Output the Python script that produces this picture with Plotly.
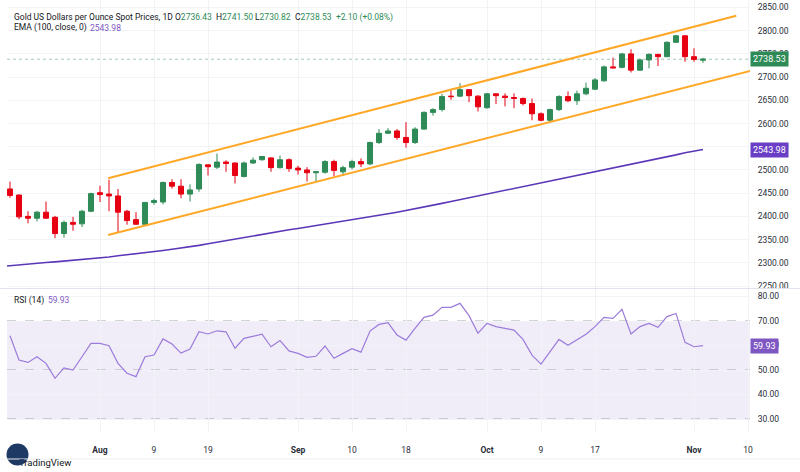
import plotly.graph_objects as go

# ---------------- data ----------------
opens = [2459, 2446, 2400, 2396, 2409, 2398, 2363, 2387, 2384, 2411,
         2451, 2448, 2444, 2411, 2393, 2383, 2430, 2431, 2473, 2465,
         2448, 2459, 2511, 2506, 2517, 2515, 2486, 2515, 2522, 2526,
         2505, 2522, 2504, 2500, 2494, 2495, 2518, 2496, 2506, 2518,
         2513, 2559, 2579, 2584, 2570, 2559, 2588, 2624, 2630, 2659,
         2659, 2673, 2659, 2634, 2664, 2659, 2656, 2654, 2643, 2621,
         2607, 2630, 2658, 2649, 2664, 2674, 2692, 2722, 2721, 2750,
         2715, 2737, 2749, 2744, 2775, 2789, 2744, 2736.43]
highs = [2475, 2447, 2411, 2412, 2432, 2401, 2391, 2399, 2414, 2451,
         2466, 2479, 2459, 2414, 2409, 2431, 2438, 2475, 2480, 2480,
         2469, 2514, 2512, 2535, 2521, 2516, 2518, 2527, 2530, 2527,
         2531, 2525, 2509, 2506, 2498, 2521, 2522, 2509, 2522, 2525,
         2561, 2588, 2590, 2588, 2603, 2592, 2626, 2633, 2664, 2671,
         2687, 2673, 2661, 2666, 2665, 2665, 2665, 2656, 2654, 2624,
         2632, 2661, 2669, 2671, 2688, 2698, 2725, 2742, 2752, 2760,
         2740, 2751, 2750, 2777, 2791, 2790, 2762, 2741.50]
lows = [2440, 2394, 2385, 2389, 2395, 2353, 2354, 2369, 2377, 2409,
        2431, 2411, 2365, 2382, 2382, 2381, 2425, 2426, 2460, 2439,
        2432, 2453, 2488, 2502, 2496, 2471, 2484, 2513, 2520, 2496,
        2503, 2496, 2490, 2475, 2475, 2492, 2486, 2487, 2501, 2506,
        2510, 2556, 2578, 2565, 2548, 2556, 2587, 2617, 2626, 2651,
        2657, 2646, 2626, 2632, 2642, 2637, 2633, 2639, 2607, 2605,
        2604, 2627, 2646, 2640, 2661, 2672, 2690, 2719, 2719, 2710,
        2713, 2719, 2724, 2743, 2774, 2733, 2733, 2730.82]
closes = [2445, 2399, 2396, 2409, 2396, 2363, 2387, 2383, 2411, 2449,
          2447, 2444, 2409, 2391, 2383, 2430, 2434, 2473, 2465, 2448,
          2457, 2512, 2507, 2517, 2514, 2488, 2515, 2521, 2529, 2505,
          2522, 2503, 2500, 2494, 2496, 2518, 2499, 2505, 2518, 2513,
          2559, 2579, 2584, 2570, 2559, 2588, 2624, 2630, 2658, 2658,
          2673, 2660, 2636, 2664, 2660, 2656, 2654, 2643, 2621, 2607,
          2630, 2658, 2649, 2664, 2676, 2694, 2722, 2720, 2750, 2715,
          2737, 2749, 2744, 2775, 2789, 2744, 2738, 2738.53]

# EMA(100) values, starting one bar before the first visible candle
ema_values = [2292, 2294, 2296, 2297.5, 2299, 2300.5, 2302, 2303.5, 2305, 2306.5,
              2308, 2310, 2312.5, 2315, 2317, 2319.5, 2322, 2324, 2326.5, 2329,
              2331.5, 2334, 2337.5, 2341, 2344.5, 2348, 2351.5, 2355, 2358.5, 2362,
              2365, 2368, 2371, 2374, 2377, 2380, 2383, 2386, 2389, 2392,
              2395, 2398.5, 2402, 2405.5, 2409, 2412.5, 2416, 2420, 2424, 2428,
              2432, 2436, 2440, 2444, 2447.5, 2451, 2455, 2459, 2463, 2467,
              2471, 2475, 2479, 2483, 2487, 2491, 2495, 2499, 2503, 2507,
              2511.5, 2516, 2520, 2524, 2528, 2532.5, 2537, 2540.5, 2543.98]

rsi_values = [64.0, 54.1, 53.1, 55.4, 52.7, 46.6, 50.9, 50.0, 55.4, 60.9,
              60.9, 59.9, 52.7, 48.7, 47.3, 55.4, 56.1, 62.7, 60.6, 56.9,
              58.6, 65.6, 64.7, 66.0, 65.6, 58.9, 62.9, 63.6, 64.6, 59.5,
              62.0, 57.8, 56.8, 55.2, 55.6, 59.8, 54.8, 56.8, 58.7, 57.3,
              65.9, 68.6, 69.3, 64.3, 62.2, 67.0, 71.5, 72.4, 75.6, 75.6,
              77.2, 72.2, 65.0, 69.0, 67.7, 67.0, 66.3, 62.5, 56.1, 52.4,
              57.5, 62.5, 60.1, 62.5, 64.6, 67.7, 71.5, 71.1, 74.8, 64.7,
              67.7, 69.0, 67.4, 71.8, 73.1, 61.3, 59.5, 59.93]

# parallel channel (bar index, price)
channel_upper_x = [10.9, 80.7]
channel_upper_y = [2482, 2832]
channel_lower_x = [10.9, 84.0]
channel_lower_y = [2360, 2722]

tick_bars = [10, 16, 22, 32, 38, 44, 53, 59, 65, 76, 82]
tick_labels = ["<b>Aug</b>", "9", "19", "<b>Sep</b>", "10", "18",
               "<b>Oct</b>", "9", "17", "<b>Nov</b>", "10"]

price_ticks = [2250, 2300, 2350, 2400, 2450, 2500, 2550, 2600, 2650,
               2700, 2750, 2800, 2850]
rsi_ticks = [30, 40, 50, 60, 70, 80]
rsi_levels = [70, 50, 30]

last_price = 2738.53
last_ema = 2543.98
last_rsi = 59.93

# ---------------- styling ----------------
FONT = "Roboto"
TXT = "#131722"
AX = "#2a2e39"
GREEN = "#2e8b57"
RED = "#e60012"
GRID = "#f2f3f6"
ORANGE = "#ffa726"
EMA_C = "#5b37b8"
RSI_C = "#9b7bdb"
NAVY = "#1e3a64"
LOGO_OR = "#f7931e"

bars = list(range(len(closes)))
ema_x = list(range(-1, len(ema_values) - 1))

W, H = 800, 472
ML, MR, MT, MB = 7, 50, 0, 0
PW, PH = W - ML - MR, H - MT - MB


def px(xp):
    return (xp - ML) / PW


def py(yp):
    return (PH - (yp - MT)) / PH


fig = go.Figure()

fig.add_trace(go.Candlestick(
    x=bars, open=opens, high=highs, low=lows, close=closes,
    xaxis="x2", yaxis="y2",
    increasing=dict(line=dict(color=GREEN, width=1), fillcolor=GREEN),
    decreasing=dict(line=dict(color=RED, width=1), fillcolor=RED),
    whiskerwidth=0, hoverinfo="skip", showlegend=False,
))

fig.add_trace(go.Scatter(x=channel_upper_x, y=channel_upper_y, mode="lines",
                         line=dict(color=ORANGE, width=2), xaxis="x2", yaxis="y2",
                         showlegend=False, hoverinfo="skip"))
fig.add_trace(go.Scatter(x=channel_lower_x, y=channel_lower_y, mode="lines",
                         line=dict(color=ORANGE, width=2), xaxis="x2", yaxis="y2",
                         showlegend=False, hoverinfo="skip"))
fig.add_trace(go.Scatter(x=ema_x, y=ema_values, mode="lines",
                         line=dict(color=EMA_C, width=1.6), xaxis="x2", yaxis="y2",
                         showlegend=False, hoverinfo="skip"))
fig.add_trace(go.Scatter(x=bars, y=rsi_values, mode="lines",
                         line=dict(color=RSI_C, width=1.2), xaxis="x", yaxis="y",
                         showlegend=False, hoverinfo="skip"))

# TradingView logo, drawn on its own small pixel-unit axes
logo_bar_x = [12.5, 15.5, 18.5, 21.5, 24.5]
logo_bar_top = [455, 452, 449, 450, 453]
fig.add_trace(go.Scatter(x=[17.5], y=[454.5], mode="markers",
                         marker=dict(symbol="circle", size=22, color=NAVY,
                                     line=dict(width=0)),
                         xaxis="x3", yaxis="y3", showlegend=False, hoverinfo="skip",
                         cliponaxis=False))
fig.add_trace(go.Bar(x=logo_bar_x, y=[t - 463 for t in logo_bar_top],
                     base=[463] * len(logo_bar_x), width=[1.8] * len(logo_bar_x),
                     marker=dict(color=LOGO_OR, line=dict(width=0)),
                     xaxis="x3", yaxis="y3", showlegend=False, hoverinfo="skip",
                     cliponaxis=False))
fig.add_trace(go.Scatter(x=[6.5], y=[461], mode="markers",
                         marker=dict(symbol="square", size=4, color=TXT),
                         xaxis="x3", yaxis="y3", showlegend=False, hoverinfo="skip",
                         cliponaxis=False))

xr = [(ML - 10) / 9, (ML + PW - 10) / 9]
main_dom = [py(288), 1]
rsi_dom = [py(432), py(289)]

common_x = dict(range=xr, tickmode="array", tickvals=tick_bars, ticktext=tick_labels,
                showgrid=True, gridcolor=GRID, gridwidth=1, zeroline=False,
                showline=False, fixedrange=True, automargin=False)

hidden = dict(visible=False, showgrid=False, zeroline=False, fixedrange=True,
              automargin=False)

fig.update_layout(
    width=W, height=H,
    margin=dict(l=ML, r=MR, t=MT, b=MB, autoexpand=False),
    paper_bgcolor="white", plot_bgcolor="rgba(0,0,0,0)",
    font=dict(family=FONT, size=8.5, color=AX),
    showlegend=False,
    boxgap=0.2,
    xaxis=dict(**common_x, anchor="y", ticks="outside", ticklen=10,
               tickcolor="rgba(0,0,0,0)", tickfont=dict(size=8.5, color=AX)),
    xaxis2=dict(**common_x, anchor="y2", matches="x", showticklabels=False,
                rangeslider=dict(visible=False)),
    xaxis3=dict(**hidden, domain=[0, px(47)], range=[7, 47], anchor="y3"),
    yaxis3=dict(**hidden, domain=[py(472), py(440)], range=[472, 440], anchor="x3"),
    yaxis=dict(domain=rsi_dom, range=[24.7, 83.06], side="right",
               tickvals=rsi_ticks, tickformat=".2f", showgrid=True,
               gridcolor=GRID, zeroline=False, ticks="outside", ticklen=5,
               tickcolor="rgba(0,0,0,0)", fixedrange=True, automargin=False),
    yaxis2=dict(domain=main_dom, range=[2245.7, 2866.1], side="right",
                tickvals=price_ticks, tickformat=".2f", showgrid=True,
                gridcolor=GRID, zeroline=False, ticks="outside", ticklen=5,
                tickcolor="rgba(0,0,0,0)", anchor="x2", fixedrange=True,
                automargin=False),
)

shapes = []
# RSI band fill
shapes.append(dict(type="rect", xref="paper", yref="y", x0=0, x1=1, y0=30, y1=70,
                   fillcolor="rgba(126,87,194,0.11)", line=dict(width=0), layer="below"))
for lv in rsi_levels:
    shapes.append(dict(type="line", xref="paper", yref="y", x0=0, x1=1, y0=lv, y1=lv,
                       line=dict(color="#a3a6af", width=1, dash="dash"), layer="below"))
# last price line
shapes.append(dict(type="line", xref="paper", yref="y2", x0=0, x1=1,
                   y0=last_price, y1=last_price,
                   line=dict(color="rgba(46,139,87,0.45)", width=1, dash="dot"),
                   layer="below"))
# pane separator and bottom border
shapes.append(dict(type="line", xref="paper", yref="paper", x0=px(0), x1=px(800),
                   y0=py(288.5), y1=py(288.5), line=dict(color="#e0e3eb", width=1)))
shapes.append(dict(type="line", xref="paper", yref="paper", x0=px(0), x1=px(800),
                   y0=py(459), y1=py(459), line=dict(color="#eceef2", width=1)))
fig.update_layout(shapes=shapes)

ann = []


def text(xp, yp, s, color=TXT, size=8.5, anchor="left"):
    ann.append(dict(xref="paper", yref="paper", x=px(xp), y=py(yp), text=s,
                    showarrow=False, xanchor=anchor, yanchor="middle",
                    font=dict(family=FONT, size=size, color=color)))


# header
text(12, 17, "Gold US Dollars per Ounce Spot Prices, 1D")
text(173, 17, "O<span style='color:%s'>%.2f</span>" % (GREEN, opens[-1]))
text(214, 17, "H<span style='color:%s'>%.2f</span>" % (GREEN, highs[-1]))
text(253, 17, "L<span style='color:%s'>%.2f</span>" % (GREEN, lows[-1]))
text(293, 17, "C<span style='color:%s'>%.2f</span>" % (GREEN, closes[-1]))
text(334, 17, "+2.10 (+0.08%)", color=GREEN)
text(12, 28, "EMA (100, close, 0)")
text(88, 28, "%.2f" % last_ema, color="#7e57c2")
text(12, 300, "RSI (14)")
text(46, 300, "%.2f" % last_rsi, color="#7e57c2")

# price-scale labels
for val, yref, col in [(last_price, "y2", GREEN), (last_ema, "y2", "#6a3fc6"),
                       (last_rsi, "y", "#7e57c2")]:
    ann.append(dict(xref="paper", yref=yref, x=1.0, y=val, text="%.2f" % val,
                    showarrow=False, xanchor="left", yanchor="middle",
                    bgcolor=col, borderpad=2, xshift=0,
                    font=dict(family=FONT, size=9, color="white")))

# TradingView wordmark (its "T" sits on the disc)
text(16.5, 462, "<span style='color:%s'>T</span>radingView" % NAVY, color=TXT, size=9.5)
fig.update_layout(annotations=ann)

fig.write_html("out.html",
               config={"displayModeBar": False, "staticPlot": True},
               post_script="document.body.style.margin='0';"
                           "document.body.style.overflow='hidden';")
